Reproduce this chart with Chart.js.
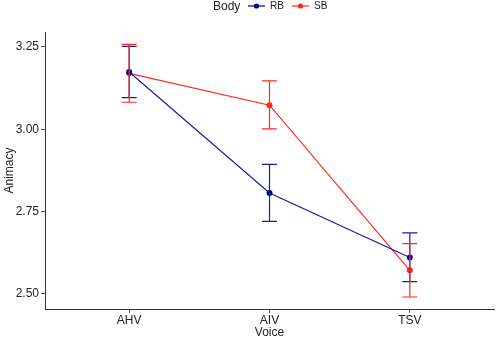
<!DOCTYPE html>
<html>
<head>
<meta charset="utf-8">
<script src="https://cdn.jsdelivr.net/npm/chart.js@4"></script>
<style>
  html, body { margin: 0; padding: 0; background: #fff; }
  #wrap { width: 498px; height: 340px; }
</style>
</head>
<body>
<div id="wrap"><canvas id="chart" width="498" height="340"></canvas></div>
<script>
const voices = ["AHV", "AIV", "TSV"];
const rbMean = [3.174, 2.806, 2.610];
const rbLow = [3.096, 2.720, 2.537];
const rbHigh = [3.252, 2.893, 2.685];
const sbMean = [3.170, 3.073, 2.571];
const sbLow = [3.082, 3.001, 2.490];
const sbHigh = [3.258, 3.147, 2.652];
const yTicks = [2.50, 2.75, 3.00, 3.25];

const FONT = "'Liberation Sans', Arial, sans-serif";
const blue = "#00008B";
const red = "#FF2A1A";
const textCol = "#222";

const toPoints = arr => arr.map((v, i) => ({ x: i, y: v }));

// error bars drawn through the chart's own scales
const errorBars = {
    id: "errorBars",
    afterDatasetsDraw(chart) {
        const { ctx, scales: { x, y } } = chart;
        const sets = [
            { lo: rbLow, hi: rbHigh, color: "#1c1c9c" },
            { lo: sbLow, hi: sbHigh, color: red }
        ];
        ctx.save();
        ctx.lineWidth = 1.2;
        sets.forEach(s => {
            ctx.strokeStyle = s.color;
            s.lo.forEach((lo, i) => {
                const px = x.getPixelForValue(i);
                const y1 = y.getPixelForValue(lo);
                const y2 = y.getPixelForValue(s.hi[i]);
                ctx.beginPath();
                ctx.moveTo(px, y1); ctx.lineTo(px, y2);
                ctx.moveTo(px - 7.5, y1); ctx.lineTo(px + 7.5, y1);
                ctx.moveTo(px - 7.5, y2); ctx.lineTo(px + 7.5, y2);
                ctx.stroke();
            });
        });
        ctx.restore();
    }
};

// ggplot-like legend at the top
const topLegend = {
    id: "topLegend",
    afterDraw(chart) {
        const ctx = chart.ctx;
        ctx.save();
        ctx.textBaseline = "middle";
        ctx.fillStyle = textCol;
        ctx.font = "12px " + FONT;
        ctx.fillText("Body", 213, 6.5);
        const items = [
            { label: "RB", color: blue, x: 248 },
            { label: "SB", color: red, x: 292 }
        ];
        items.forEach(it => {
            ctx.strokeStyle = it.color;
            ctx.fillStyle = it.color;
            ctx.lineWidth = 1.2;
            ctx.beginPath();
            ctx.moveTo(it.x, 6); ctx.lineTo(it.x + 17, 6);
            ctx.stroke();
            ctx.beginPath();
            ctx.arc(it.x + 8.5, 6, 2.6, 0, Math.PI * 2);
            ctx.fill();
            ctx.fillStyle = textCol;
            ctx.font = "10px " + FONT;
            ctx.fillText(it.label, it.x + 22, 6.5);
        });
        ctx.restore();
    }
};

new Chart(document.getElementById("chart"), {
    type: "line",
    data: {
        datasets: [
            {
                label: "RB",
                data: toPoints(rbMean),
                borderColor: "#1c1c9c",
                backgroundColor: blue,
                borderWidth: 1.2,
                pointRadius: 3,
                pointBorderWidth: 0
            },
            {
                label: "SB",
                data: toPoints(sbMean),
                borderColor: red,
                backgroundColor: red,
                borderWidth: 1.2,
                pointRadius: 3,
                pointBorderWidth: 0
            }
        ]
    },
    options: {
        responsive: false,
        animation: false,
        layout: { padding: { top: 32, right: 4, left: 0, bottom: 0 } },
        plugins: { legend: { display: false }, tooltip: { enabled: false } },
        scales: {
            x: {
                type: "linear",
                min: -0.6,
                max: 2.6,
                afterBuildTicks: s => { s.ticks = voices.map((_, i) => ({ value: i })); },
                afterFit: s => { s.height = 31; },
                ticks: {
                    callback: v => voices[v],
                    color: textCol,
                    font: { family: FONT, size: 12 },
                    padding: 0,
                    maxRotation: 0
                },
                grid: { drawOnChartArea: false, drawTicks: true, tickLength: 4, color: "#555" },
                border: { display: true, color: "#333", width: 1 },
                title: {
                    display: true,
                    text: "Voice",
                    color: textCol,
                    font: { family: FONT, size: 12 },
                    padding: { top: 0, bottom: 0 }
                }
            },
            y: {
                min: 2.4535,
                max: 3.2956,
                afterBuildTicks: s => { s.ticks = yTicks.map(v => ({ value: v })); },
                afterFit: s => { s.width = 45; },
                ticks: {
                    callback: v => v.toFixed(2),
                    color: textCol,
                    font: { family: FONT, size: 12 },
                    padding: 2
                },
                grid: { drawOnChartArea: false, drawTicks: true, tickLength: 4, color: "#555" },
                border: { display: true, color: "#333", width: 1 },
                title: {
                    display: true,
                    text: "Animacy",
                    color: textCol,
                    font: { family: FONT, size: 12 },
                    padding: { top: 2, bottom: 0 }
                }
            }
        }
    },
    plugins: [errorBars, topLegend]
});
</script>
</body>
</html>
